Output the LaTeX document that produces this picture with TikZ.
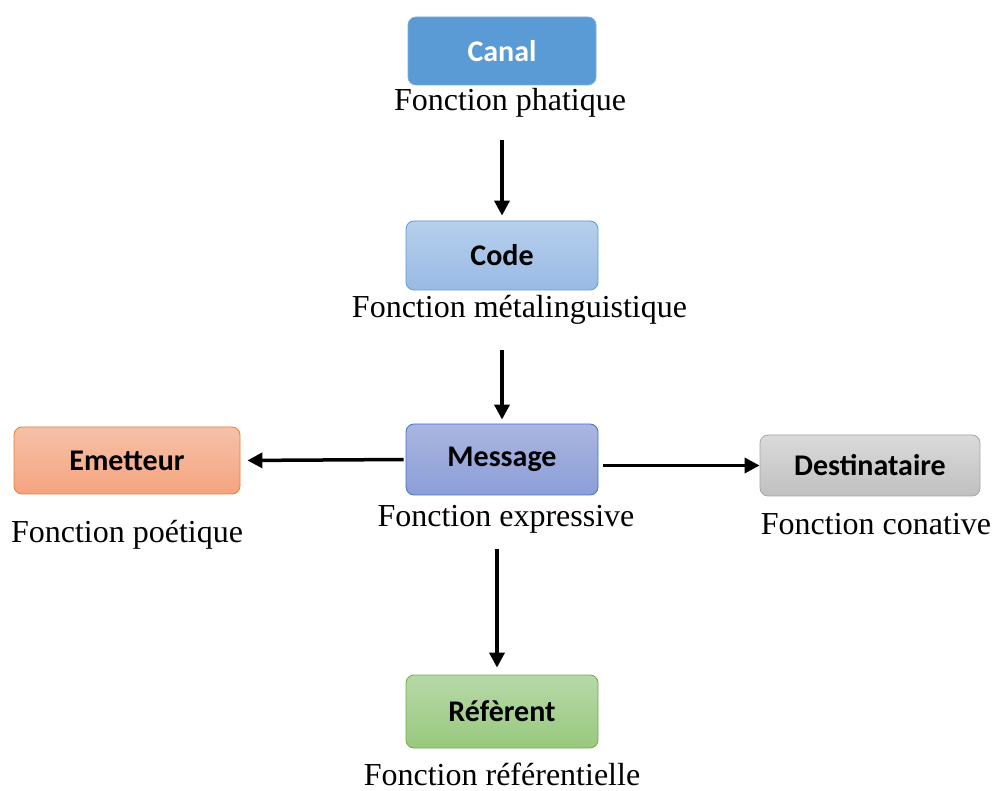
\documentclass[tikz,border=0pt]{standalone}
\usepackage{fontspec}
\setmainfont{Liberation Serif}
\newfontfamily\boxfont{Carlito}
\usetikzlibrary{positioning,calc,arrows.meta}

\definecolor{canalblue}{HTML}{5B9BD5}
\definecolor{codetop}{HTML}{B6CFEC}
\definecolor{codebot}{HTML}{99BAE5}
\definecolor{msgtop}{HTML}{AAB6E1}
\definecolor{msgbot}{HTML}{8B9ED7}
\definecolor{msgline}{HTML}{4472C4}
\definecolor{emettop}{HTML}{F6C1A8}
\definecolor{emetbot}{HTML}{F4A47F}
\definecolor{emetline}{HTML}{ED7D31}
\definecolor{desttop}{HTML}{DADADA}
\definecolor{destbot}{HTML}{C0C0C0}
\definecolor{destline}{HTML}{A6A6A6}
\definecolor{reftop}{HTML}{B7D8A8}
\definecolor{refbot}{HTML}{98C97D}
\definecolor{refline}{HTML}{70AD47}

\begin{document}
\begin{tikzpicture}[
  x=1pt, y=-1pt,
  >={Triangle[length=15pt, width=15pt]},
  box/.style={rounded corners=8pt, line width=0.8pt, align=center, inner sep=0pt,
    font=\boxfont\fontsize{30}{34}\selectfont\bfseries},
  fn/.style={anchor=base, inner sep=0pt, font=\fontsize{32}{36}\selectfont},
  link/.style={->, line width=3.5pt}
]
\useasboundingbox (0,0) rectangle (994,791);

% boxes
\node[box, fill=canalblue, draw=canalblue!80!white, text=white,
      minimum width=188pt, minimum height=68pt] (canal) at (502,51) {Canal};
\node[box, top color=codetop, bottom color=codebot, draw=canalblue,
      minimum width=192pt, minimum height=69pt] (code) at (502,255.5) {Code};
\node[box, top color=msgtop, bottom color=msgbot, draw=msgline,
      minimum width=192pt, minimum height=71pt] (msg) at (502,459.5) {Message};
\node[box, top color=emettop, bottom color=emetbot, draw=emetline,
      minimum width=226pt, minimum height=67pt] (emet) at (127,460.5) {Emetteur};
\node[box, top color=desttop, bottom color=destbot, draw=destline,
      minimum width=220pt, minimum height=61pt] (dest) at (870,465.5) {Destinataire};
\node[box, top color=reftop, bottom color=refbot, draw=refline,
      minimum width=192pt, minimum height=73pt] (ref) at (502,711.5) {Réfèrent};

% functions
\node[fn] (canal-fn) at (510,111) {Fonction phatique};
\node[fn] (code-fn)  at (519.5,318) {Fonction métalinguistique};
\node[fn] (msg-fn)   at (506,527) {Fonction expressive};
\node[fn] (emet-fn)  at (127,543) {Fonction poétique};
\node[fn] (dest-fn)  at (876,535) {Fonction conative};
\node[fn] (ref-fn)   at (502,785) {Fonction référentielle};

% arrows
\coordinate (ref-in) at ($(ref.north)+(-5,0)$);
\draw[link, shorten <=22pt, shorten >=5pt] (code.north |- canal-fn.south) -- (code.north);
\draw[link, shorten <=25pt, shorten >=4pt] (msg.north |- code-fn.south) -- (msg.north);
\draw[link, shorten <=2pt, shorten >=7pt] (msg.west) -- (emet.east);
\draw[link, shorten <=5pt] (msg.east |- dest.west) -- (dest.west);
\draw[link, shorten <=15pt, shorten >=7pt] (ref-in |- msg-fn.south) -- (ref-in);

\end{tikzpicture}
\end{document}
